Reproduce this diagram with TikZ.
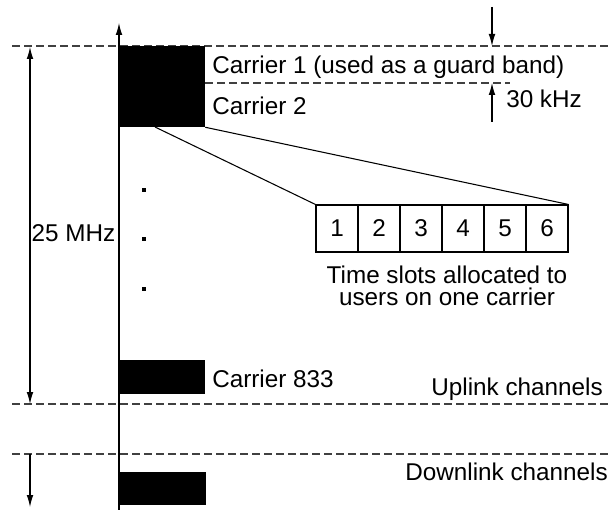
\documentclass[tikz,border=0pt]{standalone}
\usepackage{fontspec}
\setmainfont{Liberation Sans}
\usetikzlibrary{arrows.meta,fit}
\begin{document}
\begin{tikzpicture}[x=0.75pt,y=-0.75pt,
  >={Latex[length=9pt,width=5pt]},
  every node/.style={font=\fontsize{18.2}{16.5}\selectfont, inner sep=0pt},
  thinline/.style={line width=0.8pt},
  dashline/.style={line width=0.8pt, dash pattern=on 6pt off 3pt, black!75},
  arr/.style={line width=0.8pt,->},
  darr/.style={line width=0.8pt,<->},
  blk/.style={fill=black, draw=none, inner sep=0pt},
  slot/.style={draw, line width=0.8pt, minimum width=31.5pt, minimum height=35.25pt, inner sep=0pt},
  dotmark/.style={fill=black, minimum size=3pt, inner sep=0pt}
]
\useasboundingbox (0,0) rectangle (611,510);

% dashed reference lines
\coordinate (t1) at (12,46);   \coordinate (t2) at (611,46);
\coordinate (m1) at (205,83);  \coordinate (m2) at (510,83);
\coordinate (u1) at (12,404);  \coordinate (u2) at (611,404);
\coordinate (w1) at (12,454);  \coordinate (w2) at (611,454);
\draw[dashline] (t1) -- (t2);
\draw[dashline] (m1) -- (m2);
\draw[dashline] (u1) -- (u2);
\draw[dashline] (w1) -- (w2);

% carrier blocks
\node[blk, fit={(119,46)(205,127)}] (c1) {};
\node[blk, fit={(119,360)(205,394)}] (c833) {};
\node[blk, fit={(119,472)(206,505)}] (cdown) {};

% frequency axis
\coordinate (axbot) at (119,510);
\coordinate (axtop) at (119,23);
\draw[arr] (axbot) -- (axtop);

% 25 MHz span
\coordinate (la) at (30,47);
\coordinate (lb) at (30,404);
\draw[darr] (lb) -- (la);
\node[anchor=base] (mhz) at (73.5,241) {25 MHz};

% downlink arrow
\coordinate (da) at (30,454);
\coordinate (db) at (30,507);
\draw[arr] (da) -- (db);

% 30 kHz arrows
\coordinate (ka) at (492,7);
\coordinate (kb) at (492,46);
\coordinate (kc) at (492,122);
\coordinate (kd) at (492,83);
\draw[arr] (ka) -- (kb);
\draw[arr] (kc) -- (kd);

% labels
\node[anchor=base west] (l1) at (212,74) {Carrier 1 (used as a guard band)};
\node[anchor=base west] (l2) at (212,114) {Carrier 2};
\node[anchor=base west] (lk) at (506,108) {30 kHz};
\node[anchor=base west] (l833) at (212,387) {Carrier 833};
\node[anchor=base east] (lup) at (603,395) {Uplink channels};
\node[anchor=base east] (ldn) at (608,480) {Downlink channels};

% dots
\node[dotmark] (dt1) at (144,190) {};
\node[dotmark] (dt2) at (144,239) {};
\node[dotmark] (dt3) at (144,289) {};

% time slots
\node[slot] (s1) at (337,228.5) {1};
\node[slot] (s2) at (379,228.5) {2};
\node[slot] (s3) at (421,228.5) {3};
\node[slot] (s4) at (463,228.5) {4};
\node[slot] (s5) at (505,228.5) {5};
\node[slot] (s6) at (547,228.5) {6};
\node[align=center, anchor=base] (cap) at (447,305) {Time slots allocated to\\users on one carrier};

% zoom lines
\coordinate (zs) at (155,127);
\draw[thinline] (zs) -- (s1.north west);
\draw[thinline] (c1.south east) -- (s6.north east);
\end{tikzpicture}
\end{document}
